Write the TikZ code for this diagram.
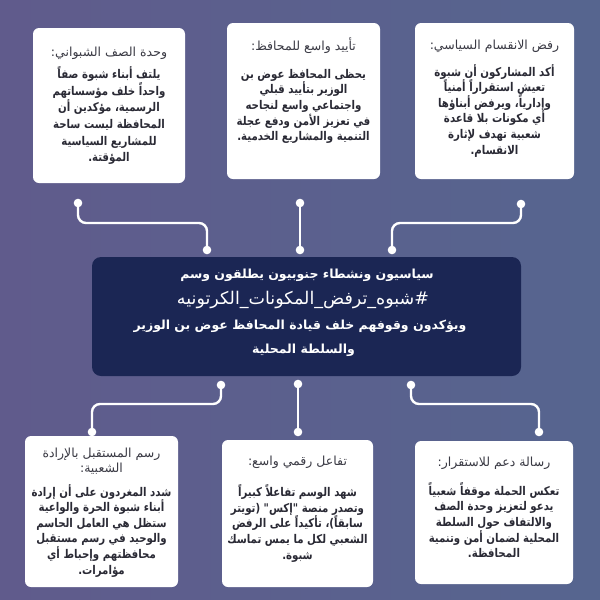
\documentclass[tikz,border=0pt]{standalone}
\usepackage{fontspec}
\newfontfamily\ar[Script=Arabic]{DejaVu Sans}
\newfontfamily\arn[Script=Arabic,FakeStretch=0.85]{DejaVu Sans}
\TeXXeTstate=1
\newcommand\RL[1]{\beginR #1\endR}
{\catcode`\_=12 \gdef\hashline{\beginR\#شبوه_ترفض_المكونات_الكرتونيه\endR}}
\definecolor{bgL}{HTML}{605B8C}
\definecolor{bgR}{HTML}{56658F}
\definecolor{navy}{HTML}{1B2654}
\definecolor{ttl}{HTML}{3A3A44}
\definecolor{bdy}{HTML}{2A2A35}
\tikzset{
  card/.style={draw=none, fill=white, rounded corners=6pt, inner sep=0pt},
  ttlfont/.style={font=\ar\fontsize{12.5}{15.5}\selectfont, text=ttl, align=center, inner sep=0pt},
  bdyfont/.style={font=\arn\bfseries\fontsize{12}{15.6}\selectfont, text=bdy, align=center, inner sep=0pt, anchor=north},
  ctext/.style={font=\ar\bfseries\fontsize{12.5}{14}\selectfont, text=white, inner sep=0pt},
  conn/.style={draw=white, line width=2.4pt, rounded corners=8pt},
  dot/.style={fill=white}
}
\begin{document}
\begin{tikzpicture}[x=1pt,y=-1pt]
\shade[left color=bgL, right color=bgR] (0,0) rectangle (600,600);
\useasboundingbox (0,0) rectangle (600,600);

% top cards
\node[card, minimum width=152pt, minimum height=155pt] (t1) at (109,105.5) {};
\node[card, minimum width=153pt, minimum height=156pt] (t2) at (303.5,101) {};
\node[card, minimum width=159pt, minimum height=156pt] (t3) at (494.5,101) {};
% bottom cards
\node[card, minimum width=153pt, minimum height=151pt] (b1) at (101.5,511.5) {};
\node[card, minimum width=151pt, minimum height=147pt] (b2) at (297.5,513.5) {};
\node[card, minimum width=158pt, minimum height=143pt] (b3) at (494,512.5) {};
% centre
\node[draw=none, fill=navy, rounded corners=9pt, minimum width=429pt, minimum height=119pt] (c) at (306.5,316.5) {};

% titles
\node[ttlfont] (t1t) at (109,53) {\RL{وحدة الصف الشبواني:}};
\node[ttlfont] (t2t) at (303.5,46) {\RL{تأييد واسع للمحافظ:}};
\node[ttlfont] (t3t) at (494.5,46) {\RL{رفض الانقسام السياسي:}};
\node[ttlfont] (b1t) at (101.5,461) {\RL{رسم المستقبل بالإرادة}\\\RL{الشعبية:}};
\node[ttlfont] (b2t) at (297.5,462.5) {\RL{تفاعل رقمي واسع:}};
\node[ttlfont] (b3t) at (494,463.5) {\RL{رسالة دعم للاستقرار:}};

% bodies
\node[bdyfont, font=\arn\bfseries\fontsize{12}{16.6}\selectfont] (t1b) at (109,66) {\RL{يلتف أبناء شبوة صفاً}\\\RL{واحداً خلف مؤسساتهم}\\\RL{الرسمية، مؤكدين أن}\\\RL{المحافظة ليست ساحة}\\\RL{للمشاريع السياسية}\\\RL{المؤقتة.}};
\node[bdyfont] (t2b) at (303.5,69) {\RL{يحظى المحافظ عوض بن}\\\RL{الوزير بتأييد قبلي}\\\RL{واجتماعي واسع لنجاحه}\\\RL{في تعزيز الأمن ودفع عجلة}\\\RL{التنمية والمشاريع الخدمية.}};
\node[bdyfont] (t3b) at (494.5,64) {\RL{أكد المشاركون أن شبوة}\\\RL{تعيش استقراراً أمنياً}\\\RL{وإدارياً، ويرفض أبناؤها}\\\RL{أي مكونات بلا قاعدة}\\\RL{شعبية تهدف لإثارة}\\\RL{الانقسام.}};
\node[bdyfont] (b1b) at (101.5,484) {\RL{شدد المغردون على أن إرادة}\\\RL{أبناء شبوة الحرة والواعية}\\\RL{ستظل هي العامل الحاسم}\\\RL{والوحيد في رسم مستقبل}\\\RL{محافظتهم وإحباط أي}\\\RL{مؤامرات.}};
\node[bdyfont] (b2b) at (297.5,484) {\RL{شهد الوسم تفاعلاً كبيراً}\\\RL{وتصدر منصة "إكس" (تويتر}\\\RL{سابقاً)، تأكيداً على الرفض}\\\RL{الشعبي لكل ما يمس تماسك}\\\RL{شبوة.}};
\node[bdyfont] (b3b) at (494,482.5) {\RL{تعكس الحملة موقفاً شعبياً}\\\RL{يدعو لتعزيز وحدة الصف}\\\RL{والالتفاف حول السلطة}\\\RL{المحلية لضمان أمن وتنمية}\\\RL{المحافظة.}};

% centre text
\node[ctext] (c1) at (307,275) {\RL{سياسيون ونشطاء جنوبيون يطلقون وسم}};
\node[ctext, font=\ar\fontsize{17.5}{19}\selectfont] (c2) at (303,300) {\hashline};
\node[ctext] (c3) at (300,326) {\RL{ويؤكدون وقوفهم خلف قيادة المحافظ عوض بن الوزير}};
\node[ctext] (c4) at (303.5,350) {\RL{والسلطة المحلية}};

% connector end points
\coordinate (u1a) at (78,203);  \coordinate (u1b) at (207,250);
\coordinate (u2a) at (300,203); \coordinate (u2b) at (300,250);
\coordinate (u3a) at (521,204); \coordinate (u3b) at (392,250);
\coordinate (d1a) at (221,385); \coordinate (d1b) at (92,432);
\coordinate (d2a) at (298,384); \coordinate (d2b) at (298,432);
\coordinate (d3a) at (411,385); \coordinate (d3b) at (539,432);

\draw[conn] (u1a) |- (150,223) -| (u1b);
\draw[conn] (u2a) -- (u2b);
\draw[conn] (u3a) |- (450,223) -| (u3b);
\draw[conn] (d1a) |- (150,404) -| (d1b);
\draw[conn] (d2a) -- (d2b);
\draw[conn] (d3a) |- (480,404) -| (d3b);
\foreach \p in {u1a,u1b,u2a,u2b,u3a,u3b,d1a,d1b,d2a,d2b,d3a,d3b}
  \fill[dot] (\p) circle (4.3pt);
\end{tikzpicture}
\end{document}
